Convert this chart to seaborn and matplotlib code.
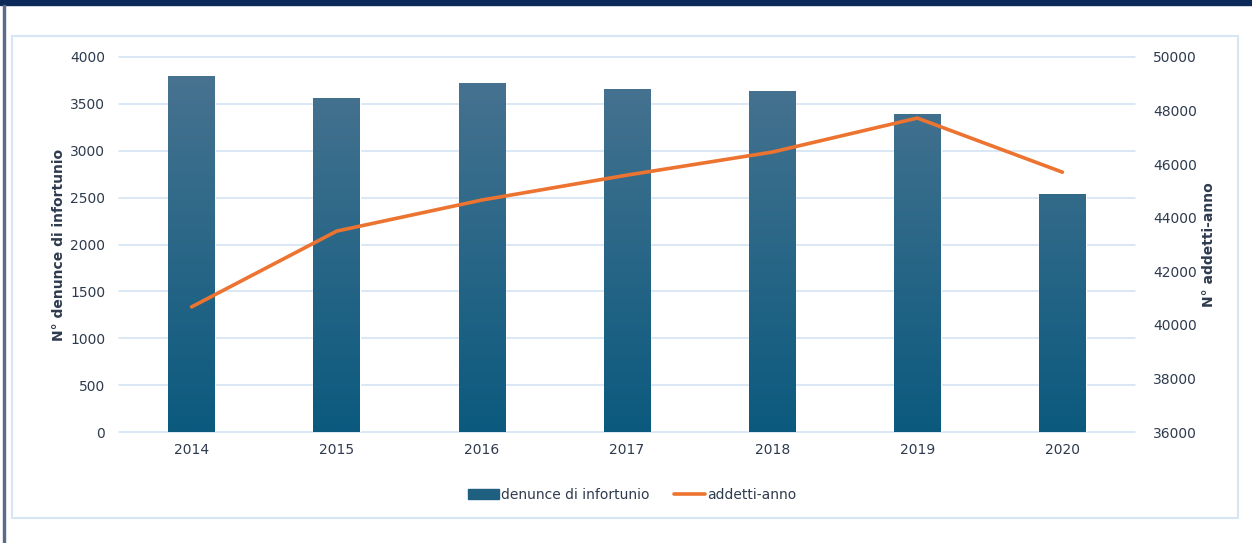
import matplotlib
matplotlib.use("Agg")
import matplotlib.pyplot as plt
import seaborn as sns
import pandas as pd
import numpy as np
from matplotlib.patches import Rectangle
from matplotlib.lines import Line2D
from matplotlib.colors import LinearSegmentedColormap

# data
anni = ['2014', '2015', '2016', '2017', '2018', '2019', '2020']
denunce = [3800, 3563, 3723, 3659, 3637, 3392, 2539]
addetti = [40670, 43500, 44660, 45590, 46450, 47720, 45700]

sns.set_theme(style="white")
plt.rcParams['font.family'] = ['DejaVu Sans']

txt = '#2e3b4e'
grid = '#cfe1f4'
orange = '#ec7330'

df = pd.DataFrame({'anno': anni, 'denunce': denunce, 'addetti': addetti})

fig = plt.figure(figsize=(12.52, 5.43), dpi=100)
ax = fig.add_axes([119/1252, 111/543, 1016/1252, 375/543])

sns.barplot(data=df, x='anno', y='denunce', ax=ax, color='#1f5f80', width=0.32, saturation=1)

# gradient fill on the bars
cmap = LinearSegmentedColormap.from_list('g', ['#0b5a7e', '#4a7491'])
grad = np.linspace(0, 1, 256).reshape(-1, 1)
for p in ax.patches:
    x0, y0 = p.get_x(), p.get_y()
    w, h = p.get_width(), p.get_height()
    im = ax.imshow(grad, cmap=cmap, origin='lower', aspect='auto',
                   extent=[x0, x0 + w, y0, y0 + 4000], zorder=p.get_zorder() + 0.1)
    im.set_clip_path(p)

ax.set_xlim(-0.5, 6.5)
ax.set_ylim(0, 4000)
ax.set_yticks(range(0, 4001, 500))
ax.grid(axis='y', color=grid, linewidth=1.1, clip_on=False)
ax.set_axisbelow(True)
for s in ax.spines.values():
    s.set_visible(False)
ax.tick_params(axis='y', length=0, pad=10, labelsize=10, labelcolor=txt)
ax.tick_params(axis='x', length=0, pad=8, labelsize=10, labelcolor=txt)
ax.set_xlabel('')
ax.set_ylabel('N° denunce di infortunio', fontsize=10, fontweight='bold', color=txt, labelpad=3)

ax2 = ax.twinx()
sns.lineplot(x=np.arange(len(anni)), y=addetti, ax=ax2, color=orange, linewidth=2.6)
ax2.set_ylim(36000, 50000)
ax2.set_yticks(range(36000, 50001, 2000))
for s in ax2.spines.values():
    s.set_visible(False)
ax2.grid(False)
ax2.tick_params(axis='y', length=0, pad=13, labelsize=10, labelcolor=txt)
ax2.set_ylabel('N° addetti-anno', fontsize=10, fontweight='bold', color=txt, labelpad=4)

handles = [Rectangle((0, 0), 1, 1, color='#1f5f80'),
           Line2D([0], [0], color=orange, linewidth=2.6)]
fig.legend(handles, ['denunce di infortunio', 'addetti-anno'], loc='center',
           bbox_to_anchor=(632/1252, 1 - 495/543), ncol=2, frameon=False,
           fontsize=10, labelcolor=txt, handlelength=2.2, handletextpad=0.15,
           columnspacing=1.8)

# frame decorations
fig.patches.append(Rectangle((0, 1 - 5/543), 1, 5/543, transform=fig.transFigure,
                             color='#0b2a5a', zorder=0))
fig.patches.append(Rectangle((3/1252, 0), 2/1252, 1 - 5/543, transform=fig.transFigure,
                             color='#5b6b8c', zorder=0))
fig.patches.append(Rectangle((12/1252, 1 - 518/543), 1226/1252, 482/543, transform=fig.transFigure,
                             fill=False, edgecolor='#d6e6f5', linewidth=1.5, zorder=0))

fig.savefig('out.png', dpi=100)
